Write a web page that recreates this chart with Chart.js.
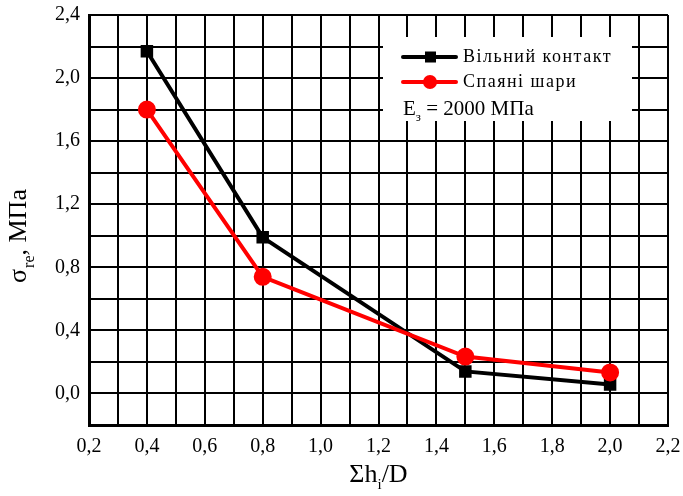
<!DOCTYPE html>
<html>
<head>
<meta charset="utf-8">
<script src="https://cdn.jsdelivr.net/npm/chart.js@4"></script>
<style>
html,body{margin:0;padding:0;background:#fff;}
#wrap{width:683px;height:496px;}
</style>
</head>
<body>
<div id="wrap"><canvas id="c" width="683" height="496"></canvas></div>
<script>
const xValues = [0.4, 0.8, 1.5, 2.0];
const freeContact = [2.17, 0.99, 0.14, 0.057];
const bondedLayers = [1.80, 0.74, 0.234, 0.133];
const seriesNames = ['Вільний контакт', 'Спаяні шари'];
const noteText = ['E', 'з', ' = 2000 МПа'];
const yTitle = ['σ', 're', ', МПа'];
const xTitle = ['Σh', 'i', '/D'];

const serif = '"Liberation Serif", "Times New Roman", serif';

function pts(ys){ return xValues.map((x,i)=>({x:x,y:ys[i]})); }

const overlay = {
  id:'overlay',
  beforeDatasetsDraw(chart){
    const ctx = chart.ctx;
    ctx.save();
    ctx.fillStyle = '#fff';
    ctx.fillRect(383, 37, 249, 84);
    ctx.restore();
  },
  afterDraw(chart){
    const ctx = chart.ctx;
    const ca = chart.chartArea;
    ctx.save();
    const rows = [
      {y:57, color:'#000', shape:'square', text:seriesNames[0]},
      {y:82, color:'#ff0000', shape:'circle', text:seriesNames[1]}
    ];
    rows.forEach(r=>{
      ctx.strokeStyle = r.color;
      ctx.fillStyle = r.color;
      ctx.lineWidth = 4;
      ctx.lineCap = 'round';
      ctx.beginPath(); ctx.moveTo(403, r.y); ctx.lineTo(456, r.y); ctx.stroke();
      if (r.shape==='square'){ ctx.fillRect(425, r.y-5.5, 11, 11); }
      else { ctx.beginPath(); ctx.arc(430, r.y, 7, 0, Math.PI*2); ctx.fill(); }
      ctx.fillStyle = '#000';
      ctx.font = '18px ' + serif;
      ctx.letterSpacing = '1.5px';
      ctx.textBaseline = 'middle';
      ctx.textAlign = 'left';
      ctx.fillText(r.text, 463, r.y);
    });
    ctx.letterSpacing = '0px';
    ctx.textBaseline = 'alphabetic';
    ctx.font = '21px ' + serif;
    ctx.fillText(noteText[0], 403, 115);
    let w = ctx.measureText(noteText[0]).width;
    ctx.font = '13px ' + serif;
    ctx.fillText(noteText[1], 403 + w, 121);
    let w2 = ctx.measureText(noteText[1]).width;
    ctx.font = '21px ' + serif;
    ctx.fillText(noteText[2], 403 + w + w2, 115);

    ctx.font = '26px ' + serif;
    const a = ctx.measureText(xTitle[0]).width;
    const c = ctx.measureText(xTitle[2]).width;
    ctx.font = '15px ' + serif;
    const b = ctx.measureText(xTitle[1]).width;
    const total = a + b + c;
    let x0 = (ca.left + ca.right)/2 - total/2;
    const by = 482;
    ctx.font = '26px ' + serif;
    ctx.fillText(xTitle[0], x0, by);
    ctx.font = '15px ' + serif;
    ctx.fillText(xTitle[1], x0 + a, by + 7);
    ctx.font = '26px ' + serif;
    ctx.fillText(xTitle[2], x0 + a + b, by);

    ctx.translate(26, 236);
    ctx.rotate(-Math.PI/2);
    ctx.font = '26px ' + serif;
    const ya = ctx.measureText(yTitle[0]).width;
    const yc = ctx.measureText(yTitle[2]).width;
    ctx.font = '16px ' + serif;
    const yb = ctx.measureText(yTitle[1]).width;
    const yt = ya + yb + yc + 1;
    let s = -yt/2;
    ctx.font = '26px ' + serif;
    ctx.fillText(yTitle[0], s, 0);
    ctx.font = '16px ' + serif;
    ctx.fillText(yTitle[1], s + ya + 1, 8);
    ctx.font = '26px ' + serif;
    ctx.fillText(yTitle[2], s + ya + yb + 1, 0);
    ctx.restore();
  }
};

function noPad(s){ s.paddingLeft = 0; s.paddingRight = 0; s.paddingTop = 0; s.paddingBottom = 0; }

new Chart(document.getElementById('c'), {
  type:'scatter',
  data:{
    datasets:[
      {label:seriesNames[0], data:pts(freeContact), showLine:true, borderColor:'#000', backgroundColor:'#000',
       borderWidth:4, pointStyle:'rect', pointRadius:6, pointHoverRadius:6, order:2},
      {label:seriesNames[1], data:pts(bondedLayers), showLine:true, borderColor:'#ff0000', backgroundColor:'#ff0000',
       borderWidth:4, pointStyle:'circle', pointRadius:7, pointHoverRadius:7, order:1}
    ]
  },
  options:{
    responsive:false,
    animation:false,
    layout:{padding:{top:15,right:15,left:0,bottom:0}},
    plugins:{legend:{display:false}, tooltip:{enabled:false}},
    scales:{
      x:{
        type:'linear', min:0.2, max:2.2,
        border:{display:true,color:'#000',width:3},
        grid:{color:'#000', lineWidth:2, drawTicks:false},
        ticks:{stepSize:0.1, padding:10, color:'#000', font:{family:serif,size:20},
          maxRotation:0, autoSkip:false,
          callback:(v)=> (Math.round(v*10)%2===0) ? v.toFixed(1).replace('.',',') : ''},
        afterFit:(s)=>{ s.height = 71; noPad(s); }
      },
      y:{
        type:'linear', min:-0.2, max:2.4,
        border:{display:true,color:'#000',width:3},
        grid:{color:'#000', lineWidth:2, drawTicks:false},
        ticks:{stepSize:0.2, padding:9, color:'#000', font:{family:serif,size:20}, autoSkip:false,
          callback:(v)=> (Math.round(v*10)%4===0) ? v.toFixed(1).replace('.',',') : ''},
        afterFit:(s)=>{ s.width = 89; noPad(s); }
      }
    }
  },
  plugins:[overlay]
});
</script>
</body>
</html>
